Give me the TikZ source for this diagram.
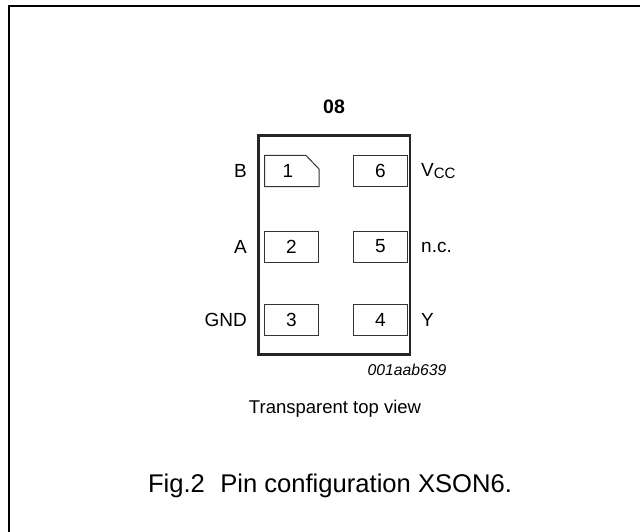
\documentclass[tikz,border=0pt]{standalone}
\usepackage{fontspec}
\setmainfont{Liberation Sans}
\tikzset{
  x=1pt,y=-1pt,
  pad/.style={draw=black!80,line width=1pt,minimum width=54pt,minimum height=31pt,inner sep=0pt,font=\fontsize{19}{22}\selectfont},
  lab/.style={inner sep=0pt,font=\fontsize{19}{22}\selectfont},
  figcaption/.style={inner sep=0pt}
}
\begin{document}
\begin{tikzpicture}
\useasboundingbox (0,0) rectangle (640,532);
\draw[line width=1.5pt] (9,532) -- (9,6) -- (640,6);
\draw[line width=2.5pt,draw=black!85] (258.5,135.5) rectangle (410,354.5);
\node[lab,font=\fontsize{19.5}{22}\selectfont\bfseries] (title) at (334,107) {08};
\draw[draw=black!80,line width=1pt] (264.5,155.5) -- (306,155.5) -- (319,169) -- (319,186.5) -- (264.5,186.5) -- cycle;
\node[inner sep=0pt,font=\fontsize{19}{22}\selectfont] (n1) at (288,171) {1};
\node[pad] (p6) at (380.5,171) {6};
\node[pad] (p2) at (291.5,246.5) {2};
\node[pad] (p5) at (380.5,246.5) {5};
\node[pad] (p3) at (291.5,320) {3};
\node[pad] (p4) at (380.5,320) {4};
\node[lab,anchor=east] (lb) at (247,171) {B};
\node[lab,anchor=east] (la) at (247,246.5) {A};
\node[lab,anchor=east] (lg) at (247,320) {GND};
\node[lab,anchor=west] (lv) at (421,171) {V\raisebox{-2.5pt}{\fontsize{15}{18}\selectfont CC}};
\node[lab,anchor=west] (ln) at (421,247) {n.c.};
\node[lab,anchor=west] (ly) at (421,320) {Y};
\node[inner sep=0pt,font=\fontsize{15.7}{18}\selectfont\itshape] (code) at (407,370) {001aab639};
\node[lab,font=\fontsize{18.5}{22}\selectfont] (tv) at (335,409) {Transparent top view};
\node[figcaption,font=\fontsize{25.6}{30}\selectfont] (fig) at (330,486) {Fig.2\hspace{0.6em}Pin configuration XSON6.};
\end{tikzpicture}
\end{document}
